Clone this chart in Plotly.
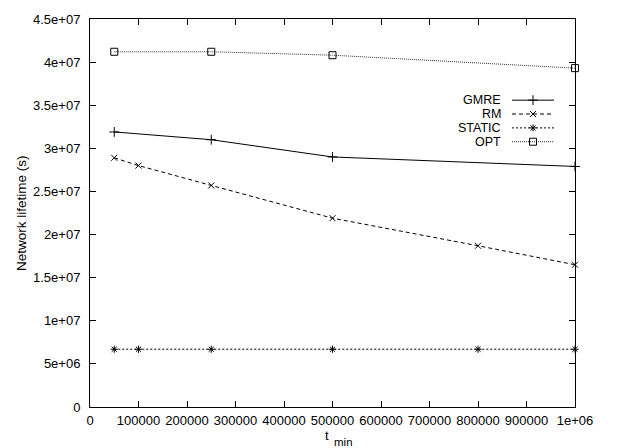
import plotly.graph_objects as go

# t_min values and network lifetimes (s)
x_gmre = [50000, 250000, 500000, 1000000]
y_gmre = [3.19e7, 3.10e7, 2.90e7, 2.79e7]

x_rm = [50000, 100000, 250000, 500000, 800000, 1000000]
y_rm = [2.89e7, 2.80e7, 2.57e7, 2.19e7, 1.87e7, 1.65e7]

x_static = [50000, 100000, 250000, 500000, 800000, 1000000]
y_static = [6.7e6, 6.7e6, 6.7e6, 6.7e6, 6.7e6, 6.7e6]

x_opt = [50000, 250000, 500000, 1000000]
y_opt = [4.12e7, 4.12e7, 4.08e7, 3.93e7]

x_ticks = [0, 100000, 200000, 300000, 400000, 500000, 600000, 700000, 800000, 900000, 1000000]
x_ticktext = ["0", "100000", "200000", "300000", "400000", "500000", "600000",
              "700000", "800000", "900000", "1e+06"]
y_ticks = [0, 5e6, 1e7, 1.5e7, 2e7, 2.5e7, 3e7, 3.5e7, 4e7, 4.5e7]
y_ticktext = ["0", "5e+06", "1e+07", "1.5e+07", "2e+07", "2.5e+07", "3e+07",
              "3.5e+07", "4e+07", "4.5e+07"]

names = ["GMRE", "RM", "STATIC", "OPT"]

FONT = "Liberation Sans, Arial, Helvetica, sans-serif"
W, H = 641, 448
ML, MR, MT, MB = 90, 66, 15, 41
PW, PH = W - ML - MR, H - MT - MB

styles = {
    "GMRE": dict(dash="solid", symbol="cross-thin", size=7, color="#000000"),
    "RM": dict(dash="4px,3px", symbol="x-thin", size=6, color="#000000"),
    "STATIC": dict(dash="2px,2px", symbol="asterisk", size=6, color="#000000"),
    "OPT": dict(dash="1px,1px", symbol="square-open", size=7, color="#333333"),
}

series = {
    "GMRE": (x_gmre, y_gmre),
    "RM": (x_rm, y_rm),
    "STATIC": (x_static, y_static),
    "OPT": (x_opt, y_opt),
}

fig = go.Figure()
for name in names:
    xs, ys = series[name]
    st = styles[name]
    fig.add_trace(go.Scatter(
        x=xs, y=ys, mode="lines+markers", name=name, showlegend=False,
        line=dict(color=st["color"], width=1, dash=st["dash"]),
        marker=dict(symbol=st["symbol"], size=st["size"], color="#000000",
                    line=dict(color="#000000", width=1)),
        cliponaxis=False,
    ))

# Key in the upper right: label, then line sample with a marker
def px_x(px):
    return (px - ML) / PW

def px_y(py):
    return (MT + PH - py) / PH

KEY_TEXT_RIGHT = 503
KEY_LINE = (512, 554)
row_y = [97, 111, 125, 139]
annotations = []
for name, ry in zip(names, row_y):
    st = styles[name]
    fig.add_trace(go.Scatter(
        x=[px_x(KEY_LINE[0]), px_x(KEY_LINE[1])], y=[px_y(ry), px_y(ry)],
        xaxis="x2", yaxis="y2", mode="lines", showlegend=False, hoverinfo="skip",
        line=dict(color=st["color"], width=1, dash=st["dash"]),
    ))
    fig.add_trace(go.Scatter(
        x=[px_x(sum(KEY_LINE) / 2)], y=[px_y(ry)], xaxis="x2", yaxis="y2",
        mode="markers", showlegend=False, hoverinfo="skip",
        marker=dict(symbol=st["symbol"], size=st["size"], color="#000000",
                    line=dict(color="#000000", width=1)),
    ))
    annotations.append(dict(
        text=name, x=px_x(KEY_TEXT_RIGHT), y=px_y(ry), xref="paper", yref="paper",
        xanchor="right", yanchor="middle", showarrow=False, height=12,
        font=dict(family=FONT, size=12.5, color="#000000"),
    ))

annotations.append(dict(
    text="Network lifetime (s)", textangle=-90, x=px_x(21), y=px_y(211),
    xref="paper", yref="paper", xanchor="center", yanchor="middle",
    showarrow=False, font=dict(family=FONT, size=13.5, color="#000000"),
))
annotations.append(dict(
    text="t", x=px_x(331), y=px_y(435.5), height=12,
    xref="paper", yref="paper", xanchor="right", yanchor="middle",
    showarrow=False, font=dict(family=FONT, size=13, color="#000000"),
))
annotations.append(dict(
    text="min", x=px_x(332), y=px_y(441.5), height=11,
    xref="paper", yref="paper", xanchor="left", yanchor="middle",
    showarrow=False, font=dict(family=FONT, size=11.5, color="#000000"),
))

axis_common = dict(
    showline=True, linecolor="#000000", linewidth=1, mirror="allticks",
    ticks="inside", ticklen=6, tickcolor="#000000", tickwidth=1,
    showgrid=False, zeroline=False,
    tickfont=dict(family=FONT, size=13, color="#000000"),
)

fig.update_layout(
    width=W, height=H,
    margin=dict(l=ML, r=MR, t=MT, b=MB, pad=0),
    paper_bgcolor="#ffffff", plot_bgcolor="#ffffff",
    xaxis=dict(range=[0, 1000000], tickvals=x_ticks, ticktext=x_ticktext,
               ticklabelstandoff=1, **axis_common),
    yaxis=dict(range=[0, 4.5e7], tickvals=y_ticks, ticktext=y_ticktext,
               ticklabelstandoff=6, **axis_common),
    xaxis2=dict(range=[0, 1], overlaying="x", visible=False, fixedrange=True),
    yaxis2=dict(range=[0, 1], overlaying="y", visible=False, fixedrange=True),
    annotations=annotations,
    showlegend=False,
)

fig.write_html("out.html")
